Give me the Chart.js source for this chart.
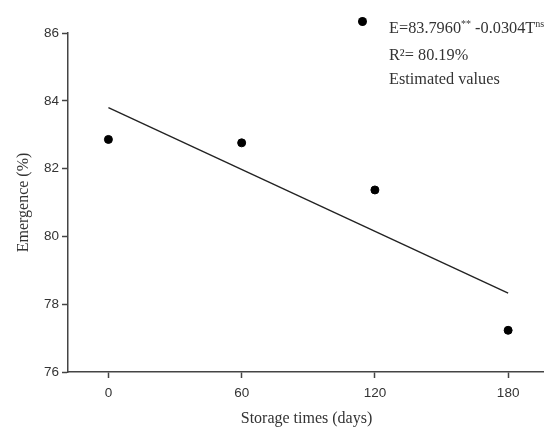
<!DOCTYPE html>
<html>
<head>
<meta charset="utf-8">
<script src="https://cdn.jsdelivr.net/npm/chart.js@4"></script>
<style>
  html, body { margin: 0; padding: 0; background: #fff; overflow: hidden; }
  #wrap { position: relative; width: 544px; height: 428px; overflow: hidden; }
  #legend { position: absolute; left: 389px; top: 16px; font-family: "Liberation Serif", serif; font-size: 16.3px; color: #333; white-space: nowrap; line-height: 24.5px; }
  #legend sup { font-size: 10px; vertical-align: 0; position: relative; top: -6px; }
  #dot { position: absolute; left: 358px; top: 17px; width: 9px; height: 9px; border-radius: 50%; background: #000; }
</style>
</head>
<body>
<div id="wrap">
  <canvas id="myChart" width="550" height="428"></canvas>
  <div id="dot"></div>
  <div id="legend">
    E=83.7960<sup>**</sup> -0.0304T<sup>ns</sup><br>
    R²= 80.19%<br>
    Estimated values
  </div>
</div>
<script>
// storage time (days) and emergence (%)
var days = [0, 60, 120, 180];
var emergence = [82.86, 82.76, 81.37, 77.23];
// fitted line end points
var fitDays = [0, 180];
var fitValues = [83.80, 78.33];
var yTicks = [76, 78, 80, 82, 84, 86];

const ctx = document.getElementById('myChart').getContext('2d');

var pts = days.map(function(d, i){ return {x: d, y: emergence[i]}; });
var fit = fitDays.map(function(d, i){ return {x: d, y: fitValues[i]}; });

let myChart = new Chart(ctx, {
  type: 'scatter',
  data: {
    datasets: [
      {
        label: 'Estimated values',
        data: pts,
        backgroundColor: '#000',
        borderColor: '#000',
        pointRadius: 4,
        pointHoverRadius: 4
      },
      {
        label: 'fit',
        data: fit,
        type: 'line',
        showLine: true,
        borderColor: '#222',
        borderWidth: 1.4,
        pointRadius: 0,
        fill: false
      }
    ]
  },
  options: {
    responsive: false,
    animation: false,
    layout: { padding: { top: 33, right: 0, left: 0, bottom: 0 } },
    plugins: { legend: { display: false }, tooltip: { enabled: false } },
    scales: {
      x: {
        type: 'linear',
        min: -18.2,
        max: 196.6,
        afterBuildTicks: function(s){ s.ticks = days.map(function(v){ return {value: v}; }); },
        afterFit: function(s){ s.height = 56; },
        border: { color: '#444', width: 1.5 },
        grid: { drawOnChartArea: false, tickLength: 6, color: '#444', tickWidth: 1.5 },
        ticks: { color: '#333', font: { family: 'Liberation Sans', size: 13.5 }, padding: 7, maxRotation: 0 },
        title: { display: true, text: 'Storage times (days)', color: '#333', font: { family: 'Liberation Serif', size: 16 }, padding: { top: 4, bottom: 0 } }
      },
      y: {
        min: 76,
        max: 86,
        afterBuildTicks: function(s){ s.ticks = yTicks.map(function(v){ return {value: v}; }); },
        afterFit: function(s){ s.width = 68; },
        border: { color: '#444', width: 1.5 },
        grid: { drawOnChartArea: false, tickLength: 6, color: '#444', tickWidth: 1.5 },
        ticks: { color: '#333', font: { family: 'Liberation Sans', size: 13.5 }, padding: 3 },
        title: { display: true, text: 'Emergence (%)', color: '#333', font: { family: 'Liberation Serif', size: 16 }, padding: { top: 14, bottom: 4 } }
      }
    }
  }
});
</script>
</body>
</html>
